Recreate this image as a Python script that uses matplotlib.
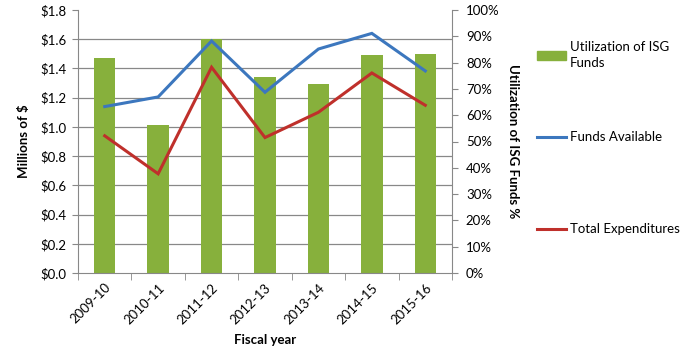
import numpy as np
import matplotlib
matplotlib.use("Agg")
from matplotlib import pyplot as plt
from matplotlib.lines import Line2D
from matplotlib.patches import Patch

plt.rcParams["font.family"] = ["Lato", "DejaVu Sans"]
plt.rcParams["font.size"] = 9.5

years = ["2009-10", "2010-11", "2011-12", "2012-13", "2013-14", "2014-15", "2015-16"]
utilization_pct = [81.8, 56.3, 88.9, 74.6, 71.9, 82.9, 83.3]
funds_available = [1.139, 1.205, 1.588, 1.237, 1.533, 1.640, 1.383]
total_expenditures = [0.939, 0.679, 1.408, 0.927, 1.100, 1.369, 1.148]

GREEN = "#87B03C"
BLUE = "#3C77BE"
RED = "#BF302B"
GRAY = "#888888"

fig = plt.figure(figsize=(6.82, 3.54), dpi=100)
ax = fig.add_axes([78 / 682, 81 / 354, 374 / 682, 263 / 354])
ax2 = ax.twinx()  # dollar axis for the lines, drawn on top of the bars
x = np.arange(len(years))

# bars on the percent axis (right side)
ax.bar(x, utilization_pct, width=0.4, color=GREEN, zorder=2)
ax.set_ylim(0, 100)
ax.set_yticks(np.arange(0, 101, 10))
ax.set_yticklabels([f"{v}%" for v in range(0, 101, 10)])
ax.yaxis.tick_right()
ax.yaxis.set_label_position("right")
ax.set_ylabel("Utilization of ISG Funds %", rotation=270, fontweight="bold",
              labelpad=14)
# gridlines matching the dollar axis, drawn behind the bars
ax.set_yticks(np.linspace(0, 100, 10), minor=True)
ax.yaxis.grid(True, which="minor", color=GRAY, lw=0.9, zorder=0)
ax.tick_params(axis="y", which="minor", length=0)
ax.tick_params(axis="y", which="major", length=4, color=GRAY, pad=6)

ax.set_xlim(-0.5, len(years) - 0.5)
ax.set_xticks(x)
ax.set_xticklabels(years, rotation=45, ha="right", rotation_mode="anchor")
ax.set_xticks(np.arange(-0.5, len(years), 1), minor=True)
ax.tick_params(axis="x", which="major", length=0, pad=6)
ax.tick_params(axis="x", which="minor", length=5, color=GRAY)
ax.set_xlabel("Fiscal year", fontweight="bold", labelpad=6)

ax.spines["top"].set_visible(False)
ax.spines["left"].set_visible(False)
for s in ["right", "bottom"]:
    ax.spines[s].set_color(GRAY)

# lines on the dollar axis (left side)
ax2.plot(x, funds_available, color=BLUE, lw=2.2, solid_joinstyle="miter")
ax2.plot(x, total_expenditures, color=RED, lw=2.2, solid_joinstyle="miter")
ax2.set_ylim(0, 1.8)
ax2.set_yticks(np.arange(0, 1.81, 0.2))
ax2.set_yticklabels([f"${v:.1f}" for v in np.arange(0, 1.81, 0.2)])
ax2.yaxis.tick_left()
ax2.yaxis.set_label_position("left")
ax2.set_ylabel("Millions of $", fontweight="bold", labelpad=8)
ax2.tick_params(axis="y", length=4, color=GRAY, pad=4)
for s in ["top", "right", "bottom"]:
    ax2.spines[s].set_visible(False)
ax2.spines["left"].set_color(GRAY)

# legend entries spread down the right side
entries = [
    (Patch(color=GREEN), "Utilization of ISG\nFunds", 55),
    (Line2D([], [], color=BLUE, lw=2.2), "Funds Available", 137),
    (Line2D([], [], color=RED, lw=2.2), "Total Expenditures", 229),
]
for handle, label, ypix in entries:
    leg = fig.legend([handle], [label], loc="center left",
                     bbox_to_anchor=(530 / 682, 1 - ypix / 354), frameon=False,
                     handlelength=2.2, handleheight=0.6, handletextpad=0.3,
                     borderpad=0)
    for t in leg.get_texts():
        t.set_linespacing(1.45)

fig.savefig("out.png", dpi=100)
